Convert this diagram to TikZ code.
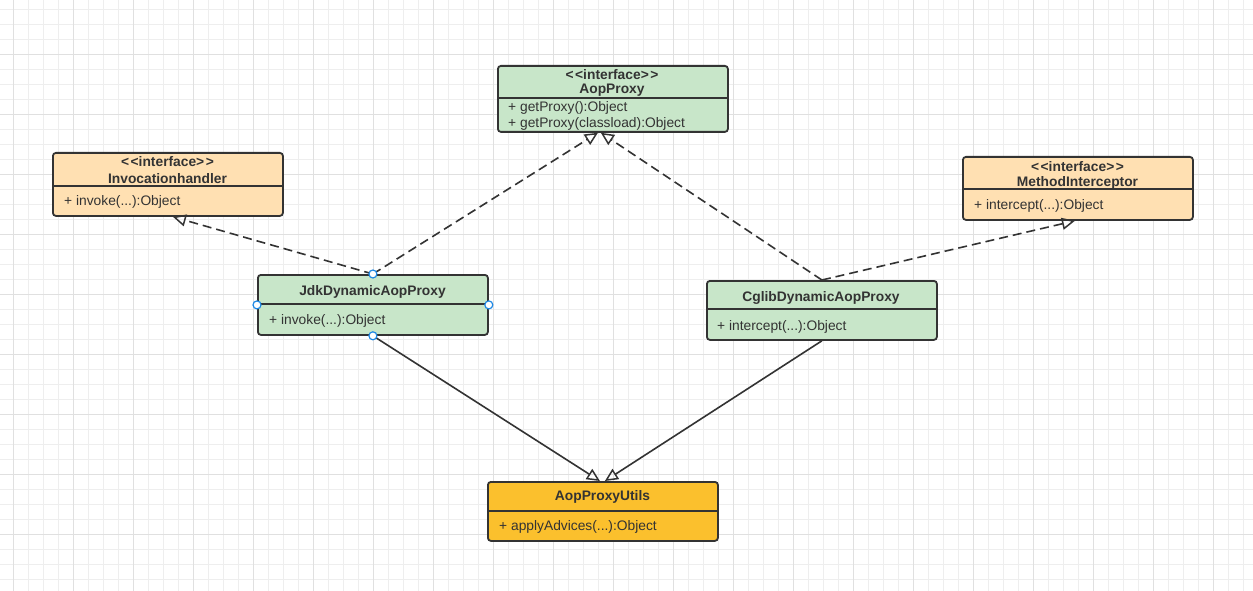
\documentclass[tikz,border=0pt]{standalone}
\usepackage{fontspec}
\setmainfont{Liberation Sans}
\usetikzlibrary{arrows.meta,calc}
\definecolor{gfill}{HTML}{C8E6C9}
\definecolor{ofill}{HTML}{FFE0B2}
\definecolor{yfill}{HTML}{FBC02D}
\definecolor{ink}{HTML}{333333}
\definecolor{gminor}{HTML}{EEEEEE}
\definecolor{gmajor}{HTML}{E0E0E0}
\definecolor{hblue}{HTML}{1E88E5}
\begin{document}
\begin{tikzpicture}[x=1pt,y=-1pt,
  umlbox/.style={draw=ink, line width=1.8pt, rounded corners=3pt, inner sep=0pt, anchor=north west, minimum width=230pt},
  divline/.style={draw=ink, line width=1.8pt},
  hdr/.style={text=ink, font=\fontsize{13.8}{16}\selectfont\bfseries, inner sep=0pt, yshift=-1.5pt},
  mth/.style={text=ink, font=\fontsize{13.8}{16}\selectfont, inner sep=0pt, anchor=west, yshift=-1.5pt},
  dep/.style={draw=ink, line width=1.6pt, dash pattern=on 9pt off 5pt, -{Triangle[open, length=13pt, width=12pt, line width=1.5pt]}},
  assoc/.style={draw=ink, line width=1.6pt, -{Triangle[open, length=13pt, width=12pt, line width=1.5pt]}},
  handle/.style={circle, draw=hblue, fill=white, line width=1.2pt, minimum size=8pt, inner sep=0pt}]
\useasboundingbox (0,0) rectangle (1253,591);
\fill[white] (0,0) rectangle (1253,591);
% grid
\foreach \i in {0,...,84} { \draw[gminor, line width=1pt] ({-1.7+15*\i},0) -- ({-1.7+15*\i},591); }
\foreach \i in {0,...,40} { \draw[gminor, line width=1pt] (0,{-5.7+15*\i}) -- (1253,{-5.7+15*\i}); }
\foreach \i in {0,...,21} { \draw[gmajor, line width=1pt] ({13.3+60*\i},0) -- ({13.3+60*\i},591); }
\foreach \i in {0,...,10} { \draw[gmajor, line width=1pt] (0,{-5.7+60*\i}) -- (1253,{-5.7+60*\i}); }

% AopProxy
\node[umlbox, fill=gfill, minimum height=66pt] (aop) at (497,65) {};
\draw[divline] ($(aop.north west)+(0,33)$) -- ($(aop.north east)+(0,33)$);
\node[hdr] (aopS) at (612,73) {<\kern1.5pt<interface>\kern1.5pt>};
\node[hdr] (aopN) at (612,89) {AopProxy};
\node[mth] (aopM1) at (508,106) {+ getProxy():Object};
\node[mth] (aopM2) at (508,122) {+ getProxy(classload):Object};

% Invocationhandler
\node[umlbox, fill=ofill, minimum height=63pt] (inv) at (52,152) {};
\draw[divline] ($(inv.north west)+(0,34)$) -- ($(inv.north east)+(0,34)$);
\node[hdr] (invS) at (167.5,160) {<\kern1.5pt<interface>\kern1.5pt>};
\node[hdr] (invN) at (167.5,177) {Invocationhandler};
\node[mth] (invM) at (64,200) {+ invoke(...):Object};

% MethodInterceptor
\node[umlbox, fill=ofill, minimum height=63pt] (mi) at (962,156) {};
\draw[divline] ($(mi.north west)+(0,33)$) -- ($(mi.north east)+(0,33)$);
\node[hdr] (miS) at (1077.5,165) {<\kern1.5pt<interface>\kern1.5pt>};
\node[hdr] (miN) at (1077.5,181) {MethodInterceptor};
\node[mth] (miM) at (974,204) {+ intercept(...):Object};

% JdkDynamicAopProxy
\node[umlbox, fill=gfill, minimum height=60pt] (jdk) at (257,274) {};
\draw[divline] ($(jdk.north west)+(0,30)$) -- ($(jdk.north east)+(0,30)$);
\node[hdr] (jdkN) at (372.5,290) {JdkDynamicAopProxy};
\node[mth] (jdkM) at (269,319) {+ invoke(...):Object};

% CglibDynamicAopProxy
\node[umlbox, fill=gfill, minimum height=59pt] (cg) at (706,280) {};
\draw[divline] ($(cg.north west)+(0,29)$) -- ($(cg.north east)+(0,29)$);
\node[hdr] (cgN) at (821,296) {CglibDynamicAopProxy};
\node[mth] (cgM) at (717,325) {+ intercept(...):Object};

% AopProxyUtils
\node[umlbox, fill=yfill, minimum height=59pt] (apu) at (487,481) {};
\draw[divline] ($(apu.north west)+(0,30)$) -- ($(apu.north east)+(0,30)$);
\node[hdr] (apuN) at (602.5,495) {AopProxyUtils};
\node[mth] (apuM) at (499,525) {+ applyAdvices(...):Object};

% connectors
\draw[dep] (jdk.north) -- ([xshift=-15pt]aop.south);
\draw[dep] (cg.north) -- ([xshift=-12pt]aop.south);
\draw[dep] (jdk.north) -- ([xshift=5pt]inv.south);
\draw[dep] (cg.north) -- ([xshift=-3pt]mi.south);
\draw[assoc] (jdk.south) -- ([xshift=-3pt]apu.north);
\draw[assoc] (cg.south) -- ([xshift=2pt]apu.north);

% selection handles
\node[handle] (hN) at (jdk.north) {};
\node[handle] (hS) at (jdk.south) {};
\node[handle] (hW) at (jdk.west) {};
\node[handle] (hE) at (jdk.east) {};
\end{tikzpicture}
\end{document}
